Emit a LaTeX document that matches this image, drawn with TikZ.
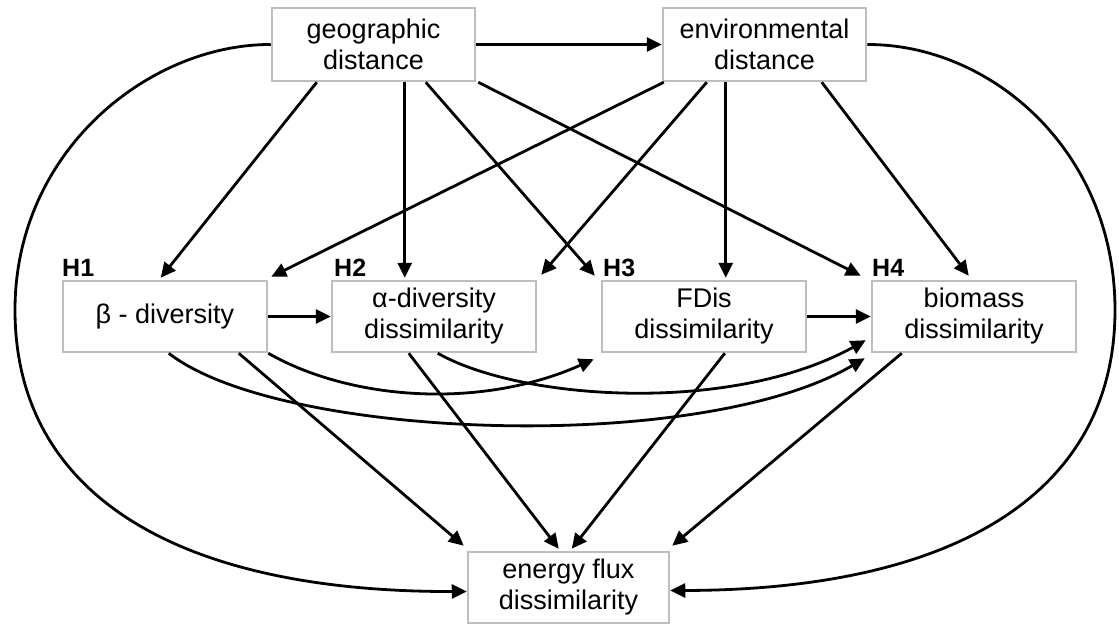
\documentclass[tikz,border=0pt]{standalone}
\usepackage{fontspec}
\setmainfont{Liberation Sans}
\usetikzlibrary{arrows.meta,calc}
\definecolor{boxgray}{RGB}{190,190,190}
\begin{document}
\begin{tikzpicture}[x=1pt,y=-1pt,
  box/.style={draw=boxgray, line width=2.5pt, fill=white, align=center, inner sep=0pt,
    font=\fontsize{27}{31}\selectfont},
  topbox/.style={box, minimum width=203pt, minimum height=73pt},
  midbox/.style={box, minimum width=204pt, minimum height=71pt},
  arr/.style={line width=2.8pt, -{Triangle[length=15pt,width=14pt]}},
  hlab/.style={font=\fontsize{25}{28}\selectfont\bfseries, anchor=base west, inner sep=0pt}]
\useasboundingbox (0,0) rectangle (1119,624);

\node[topbox] (geo) at (373.5,44.5) {geographic\\distance};
\node[topbox] (env) at (764.5,44.5) {environmental\\distance};
\node[midbox] (beta) at (165,316.5) {β - diversity};
\node[midbox] (alpha) at (434,316.5) {α-diversity\\dissimilarity};
\node[midbox] (fdis) at (704,316.5) {FDis\\dissimilarity};
\node[midbox] (bio) at (974,316.5) {biomass\\dissimilarity};
\node[box, minimum width=201pt, minimum height=71pt] (en) at (568.5,587.5) {energy flux\\dissimilarity};

\node[hlab] (h1) at (62,276) {H1};
\node[hlab] (h2) at (334,276) {H2};
\node[hlab] (h3) at (603,276) {H3};
\node[hlab] (h4) at (872,276) {H4};

% horizontal
\draw[arr] (geo.east) -- (env.west);
\draw[arr] (beta.east) -- (alpha.west);
\draw[arr] (fdis.east) -- (bio.west);

% from geographic distance
\draw[arr] ($(geo.south west)+(46,0)$) -- ($(beta.north west)+(99,-2)$);
\draw[arr] ($(geo.south west)+(134,0)$) -- ($(alpha.north west)+(74,-2)$);
\draw[arr] ($(geo.south west)+(155,0)$) -- ($(fdis.north west)+(-6,-4)$);
\draw[arr] ($(geo.south east)+(2,0)$) -- ($(bio.north west)+(-10,-4)$);

% from environmental distance
\draw[arr] ($(env.south west)+(2,0)$) -- ($(beta.north east)+(3,-3)$);
\draw[arr] ($(env.south west)+(45,0)$) -- ($(alpha.north east)+(4,-5)$);
\draw[arr] ($(env.south west)+(64,0)$) -- ($(fdis.north west)+(125,-2)$);
\draw[arr] ($(env.south west)+(160,0)$) -- ($(bio.north west)+(98,-4)$);

% curved between middle boxes
\draw[arr] (beta.south east) .. controls (350,400) and (480,410) .. ($(fdis.south west)+(-7,6)$);
\draw[arr] ($(alpha.south west)+(107,0)$) .. controls (520,400) and (730,415) .. ($(bio.south west)+(-5,-13)$);
\draw[arr] ($(beta.south west)+(107,0)$) .. controls (280,440) and (700,455) .. ($(bio.south west)+(-6,5)$);

% to energy flux
\draw[arr] ($(beta.south west)+(177,0)$) -- ($(en.north west)+(-3,-5)$);
\draw[arr] ($(alpha.south west)+(78,0)$) -- ($(en.north west)+(92,-2)$);
\draw[arr] ($(fdis.south west)+(124,0)$) -- ($(en.north west)+(105,-2)$);
\draw[arr] ($(bio.south west)+(31,0)$) -- ($(en.north east)+(2,-5)$);

% big outer curves
\draw[arr] (geo.west) .. controls (150,44) and (15,150) .. (15,310)
  .. controls (15,490) and (170,592) .. ($(en.west)+(0,4)$);
\draw[arr] (env.east) .. controls (990,44) and (1115,150) .. (1115,310)
  .. controls (1115,490) and (960,590) .. ($(en.east)+(0,3)$);
\end{tikzpicture}
\end{document}
